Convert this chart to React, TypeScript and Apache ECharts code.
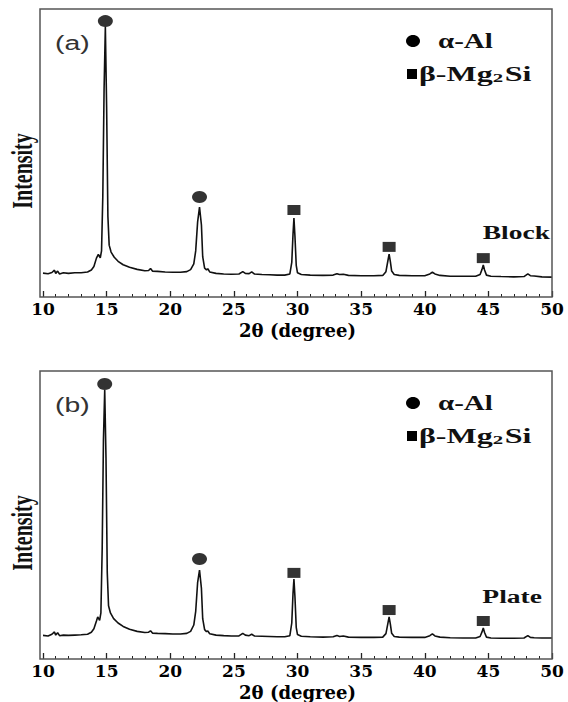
import React, { useEffect, useRef } from "react";
import * as echarts from "echarts";

// 2θ (degree), intensity (a.u., 0–100 scale) (a) "Block"
const xrdBlock: number[][] = [
  [10.0, 8.3], [10.4, 8.1], [10.7, 8.5], [10.9, 9.3], [11.0, 8.2], [11.15, 9.0], [11.3, 8.0],
  [11.6, 8.4], [12.0, 8.2], [12.5, 8.4], [13.0, 8.4], [13.5, 8.7], [13.8, 9.4], [14.0, 10.6],
  [14.2, 13.5], [14.35, 14.8], [14.5, 13.6], [14.6, 16], [14.7, 35], [14.8, 72], [14.9, 93.8],
  [15.0, 66], [15.1, 28], [15.2, 18], [15.35, 15.6], [15.6, 13.8], [15.9, 12.4], [16.3, 11.2],
  [16.8, 10.3], [17.4, 9.6], [18.0, 9.1], [18.3, 9.2], [18.45, 9.9], [18.6, 9.0], [19.0, 8.9],
  [19.6, 8.7], [20.2, 8.6], [20.8, 8.6], [21.3, 8.8], [21.6, 9.5], [21.85, 11.5], [22.0, 16],
  [22.15, 26], [22.3, 31.2], [22.45, 25], [22.55, 14], [22.7, 10.0], [22.85, 9.4], [22.95, 9.8],
  [23.1, 8.7], [23.6, 8.2], [24.2, 8.0], [24.8, 7.9], [25.4, 8.0], [25.7, 8.8], [25.9, 8.2],
  [26.2, 8.1], [26.4, 8.7], [26.6, 8.0], [27.2, 7.8], [27.8, 7.7], [28.4, 7.6], [29.0, 7.6],
  [29.4, 8.0], [29.55, 12], [29.65, 22], [29.72, 27.4], [29.8, 21], [29.9, 11], [30.0, 8.4],
  [30.3, 7.8], [31.0, 7.6], [32.0, 7.5], [32.8, 7.6], [33.1, 8.1], [33.3, 7.8], [33.6, 7.9],
  [34.0, 7.5], [35.0, 7.4], [36.0, 7.4], [36.7, 7.5], [36.95, 8.8], [37.1, 12.5], [37.2, 14.9],
  [37.3, 12.2], [37.4, 9.0], [37.6, 7.8], [38.0, 7.5], [39.0, 7.4], [40.0, 7.4], [40.4, 8.0],
  [40.6, 8.6], [40.8, 8.0], [41.2, 7.5], [42.0, 7.2], [43.0, 7.2], [44.0, 7.2], [44.35, 7.8],
  [44.5, 9.6], [44.6, 11.1], [44.7, 9.4], [44.85, 7.6], [45.2, 7.2], [46.0, 7.1], [47.0, 7.0],
  [47.8, 7.1], [48.1, 8.0], [48.3, 7.4], [48.6, 7.3], [49.2, 7.0], [50.0, 6.9],
];

// panel (b) "Plate"
const xrdPlate: number[][] = [
  [10.0, 8.2], [10.4, 8.0], [10.7, 8.6], [10.9, 9.4], [11.0, 8.3], [11.15, 9.1], [11.3, 8.1],
  [11.6, 8.3], [12.0, 8.2], [12.5, 8.3], [13.0, 8.4], [13.5, 8.6], [13.8, 9.3], [14.0, 10.5],
  [14.2, 13.2], [14.3, 14.6], [14.45, 13.4], [14.55, 16], [14.65, 38], [14.75, 76], [14.85, 93.4],
  [14.95, 70], [15.05, 30], [15.15, 18.5], [15.3, 16.0], [15.55, 14.0], [15.9, 12.5], [16.3, 11.3],
  [16.8, 10.3], [17.4, 9.6], [18.0, 9.2], [18.3, 9.3], [18.45, 9.8], [18.6, 9.0], [19.0, 8.9],
  [19.6, 8.8], [20.2, 8.7], [20.8, 8.7], [21.3, 8.9], [21.6, 9.6], [21.85, 11.8], [22.0, 16.5],
  [22.15, 26.5], [22.3, 30.9], [22.45, 24.5], [22.55, 14], [22.7, 10.2], [22.85, 9.5], [22.95, 9.7],
  [23.1, 8.8], [23.6, 8.3], [24.2, 8.1], [24.8, 8.0], [25.4, 8.0], [25.7, 8.9], [25.9, 8.3],
  [26.2, 8.1], [26.4, 8.6], [26.6, 8.0], [27.2, 7.9], [27.8, 7.8], [28.4, 7.7], [29.0, 7.7],
  [29.4, 8.1], [29.55, 12.5], [29.65, 23], [29.72, 27.8], [29.8, 21.5], [29.9, 11], [30.0, 8.5],
  [30.3, 7.9], [31.0, 7.7], [32.0, 7.6], [32.8, 7.7], [33.1, 8.2], [33.3, 7.8], [33.6, 8.0],
  [34.0, 7.6], [35.0, 7.5], [36.0, 7.5], [36.7, 7.6], [36.95, 8.8], [37.1, 12.3], [37.2, 14.6],
  [37.3, 12.0], [37.4, 8.9], [37.6, 7.8], [38.0, 7.6], [39.0, 7.5], [40.0, 7.5], [40.4, 8.1],
  [40.6, 8.7], [40.8, 8.0], [41.2, 7.6], [42.0, 7.4], [43.0, 7.3], [44.0, 7.3], [44.35, 7.8],
  [44.5, 9.4], [44.6, 10.8], [44.7, 9.2], [44.85, 7.6], [45.2, 7.3], [46.0, 7.2], [47.0, 7.2],
  [47.8, 7.3], [48.1, 8.1], [48.3, 7.5], [48.6, 7.4], [49.2, 7.3], [50.0, 7.3],
];

// phase markers (2θ, marker height)
const alphaMarksBlock: number[][] = [[14.9, 95.8], [22.3, 34.7]];
const betaMarksBlock: number[][] = [[29.72, 30.2], [37.2, 17.4], [44.6, 13.5]];
const alphaMarksPlate: number[][] = [[14.85, 95.5], [22.3, 34.7]];
const betaMarksPlate: number[][] = [[29.72, 29.9], [37.2, 17.0], [44.6, 13.2]];

const panelLabels = ["(a)", "(b)"];
const sampleLabels = ["Block", "Plate"];
const legendAlpha = "α-Al";
const axisTitle = "2θ (degree)";
const yTitle = "Intensity";

export default function App() {
  const ref = useRef<HTMLDivElement>(null);

  useEffect(() => {
    document.body.style.margin = "0";
    if (!ref.current) return;
    const chart = echarts.init(ref.current, undefined, { renderer: "svg" });

    const serifText = {
      fontFamily: "Liberation Serif",
      fontWeight: "bold",
      fill: "#111",
    };

    const panelTops = [9, 371];
    const plotH = 288;

    const xAxes = [0, 1].map((i) => ({
      type: "value",
      gridIndex: i,
      min: 10,
      max: 50,
      interval: 5,
      axisLine: { show: false },
      axisTick: { show: true, inside: true, length: 6, lineStyle: { color: "#222", width: 1.3 } },
      minorTick: { show: true, splitNumber: 5, length: 3, lineStyle: { color: "#222", width: 1 } },
      splitLine: { show: false },
      minorSplitLine: { show: false },
      axisLabel: {
        margin: 4,
        fontFamily: "DejaVu Serif",
        fontWeight: "bold",
        fontSize: 17,
        lineHeight: 15,
        color: "#000",
      },
      name: axisTitle,
      nameLocation: "middle",
      nameGap: 24,
      nameTextStyle: {
        fontFamily: "DejaVu Serif",
        fontWeight: "bold",
        fontSize: 18,
        lineHeight: 18,
        color: "#000",
      },
    }));

    const yAxes = [0, 1].map((i) => ({
      type: "value",
      gridIndex: i,
      min: 0,
      max: 100,
      show: false,
    }));

    const graphic: any[] = [];
    panelTops.forEach((top, i) => {
      graphic.push({
        type: "rect",
        shape: { x: 40, y: top, width: 512, height: plotH },
        style: { fill: "none", stroke: "#555", lineWidth: 1.5 },
        z: 10,
      });
      graphic.push({
        type: "text",
        x: 55,
        y: top + 33,
        scaleX: 1.35,
        style: {
          text: panelLabels[i],
          fontFamily: "Liberation Sans",
          fontSize: 21,
          fill: "#333",
          align: "left",
          verticalAlign: "middle",
        },
      });
      graphic.push({
        type: "ellipse",
        shape: { cx: 413, cy: top + 32, rx: 7, ry: 6 },
        style: { fill: "#000" },
      });
      graphic.push({
        type: "text",
        x: 438,
        y: top + 32,
        scaleX: 1.45,
        style: {
          ...serifText,
          text: legendAlpha,
          fontSize: 20,
          align: "left",
          verticalAlign: "middle",
        },
      });
      graphic.push({
        type: "rect",
        shape: { x: 407, y: top + 60, width: 10, height: 10 },
        style: { fill: "#000" },
      });
      graphic.push({
        type: "text",
        x: 419,
        y: top + 65,
        scaleX: 1.6,
        style: {
          text: "{m|β-Mg}{s|2}{m|Si}",
          align: "left",
          verticalAlign: "middle",
          rich: {
            m: { ...serifText, fontSize: 20, fill: "#111" },
            s: { ...serifText, fontSize: 13, fill: "#111", verticalAlign: "bottom", padding: [6, 1, 0, 0] },
          },
        },
      });
      graphic.push({
        type: "text",
        x: i === 0 ? 550 : 542,
        y: i === 0 ? 233 : 597,
        scaleX: 1.45,
        style: {
          ...serifText,
          text: sampleLabels[i],
          fontSize: 19,
          align: "right",
          verticalAlign: "middle",
        },
      });
      graphic.push({
        type: "text",
        x: 22,
        y: top + 162,
        rotation: Math.PI / 2,
        scaleY: 1.45,
        style: {
          ...serifText,
          text: yTitle,
          fontSize: 20,
          align: "center",
          verticalAlign: "middle",
        },
      });
    });

    const lineStyle = { color: "#111", width: 1.6 };

    chart.setOption({
      animation: false,
      backgroundColor: "#fff",
      grid: panelTops.map((top) => ({ left: 43, top, width: 509, height: plotH })),
      xAxis: xAxes,
      yAxis: yAxes,
      series: [
        { type: "line", xAxisIndex: 0, yAxisIndex: 0, data: xrdBlock, showSymbol: false, symbol: "none", lineStyle },
        { type: "line", xAxisIndex: 1, yAxisIndex: 1, data: xrdPlate, showSymbol: false, symbol: "none", lineStyle },
        { type: "scatter", xAxisIndex: 0, yAxisIndex: 0, data: alphaMarksBlock, symbol: "circle", symbolSize: [15, 12], itemStyle: { color: "#000" } },
        { type: "scatter", xAxisIndex: 0, yAxisIndex: 0, data: betaMarksBlock, symbol: "rect", symbolSize: [13, 10], itemStyle: { color: "#000" } },
        { type: "scatter", xAxisIndex: 1, yAxisIndex: 1, data: alphaMarksPlate, symbol: "circle", symbolSize: [15, 12], itemStyle: { color: "#000" } },
        { type: "scatter", xAxisIndex: 1, yAxisIndex: 1, data: betaMarksPlate, symbol: "rect", symbolSize: [13, 10], itemStyle: { color: "#000" } },
      ],
      graphic,
    });

    return () => chart.dispose();
  }, []);

  return <div ref={ref} style={{ width: 568, height: 702 }} />;
}
